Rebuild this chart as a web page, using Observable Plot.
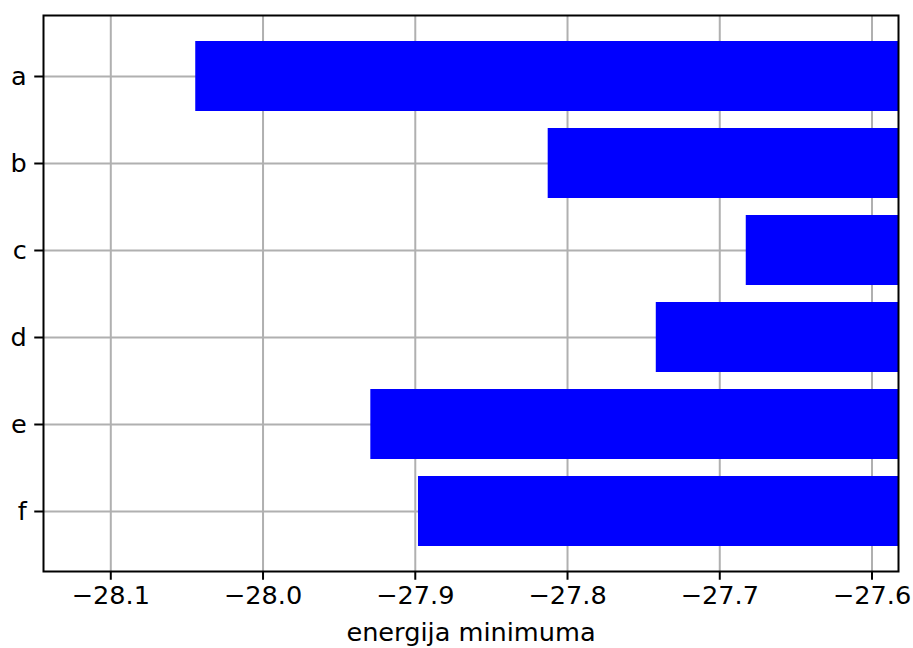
<!DOCTYPE html>
<html>
<head>
<meta charset="utf-8">
<script src="https://cdn.jsdelivr.net/npm/d3@7"></script>
<script src="https://cdn.jsdelivr.net/npm/@observablehq/plot@0.6"></script>
<style>
  html, body { margin: 0; padding: 0; background: #fff; }
  #chart svg { display: block; }
</style>
</head>
<body>
<div id="chart"></div>
<script>
const categories = ["a", "b", "c", "d", "e", "f"];
const energies = [-28.0442, -27.8127, -27.6826, -27.7417, -27.9292, -27.8979];
const xTicks = [-28.1, -28.0, -27.9, -27.8, -27.7, -27.6];
const xLabel = "energija minimuma";

const data = categories.map((c, i) => ({cat: c, value: energies[i]}));
const xMin = d3.min(energies) - 0.1;
const xMax = d3.max(energies) + 0.1;
const fmt = d => d.toFixed(1).replace("-", "\u2212");

const chart = Plot.plot({
  width: 913,
  height: 648,
  marginLeft: 43,
  marginRight: 15,
  marginTop: 15,
  marginBottom: 77,
  style: {fontFamily: "DejaVu Sans", fontSize: "25.6px", background: "#fff", color: "#000"},
  x: {domain: [xMin, xMax]},
  y: {domain: categories, paddingInner: 0.2, paddingOuter: 0.29},
  marks: [
    Plot.gridX(xTicks, {stroke: "#b0b0b0", strokeOpacity: 1, strokeWidth: 2}),
    Plot.gridY(categories, {stroke: "#b0b0b0", strokeOpacity: 1, strokeWidth: 2}),
    Plot.barX(data, {y: "cat", x1: "value", x2: 0, fill: "#0000ff", clip: true, inset: 0}),
    Plot.frame({stroke: "#000", strokeWidth: 2}),
    Plot.axisX(xTicks, {tickSize: 8.75, tickPadding: 6, tickFormat: fmt, strokeWidth: 2, fontSize: 25.6,
      label: xLabel, labelAnchor: "center", labelArrow: "none", labelOffset: 69}),
    Plot.axisY(categories, {tickSize: 8.75, tickPadding: 8, strokeWidth: 2, fontSize: 25.6, label: null})
  ]
});
document.getElementById("chart").appendChild(chart);
</script>
</body>
</html>
